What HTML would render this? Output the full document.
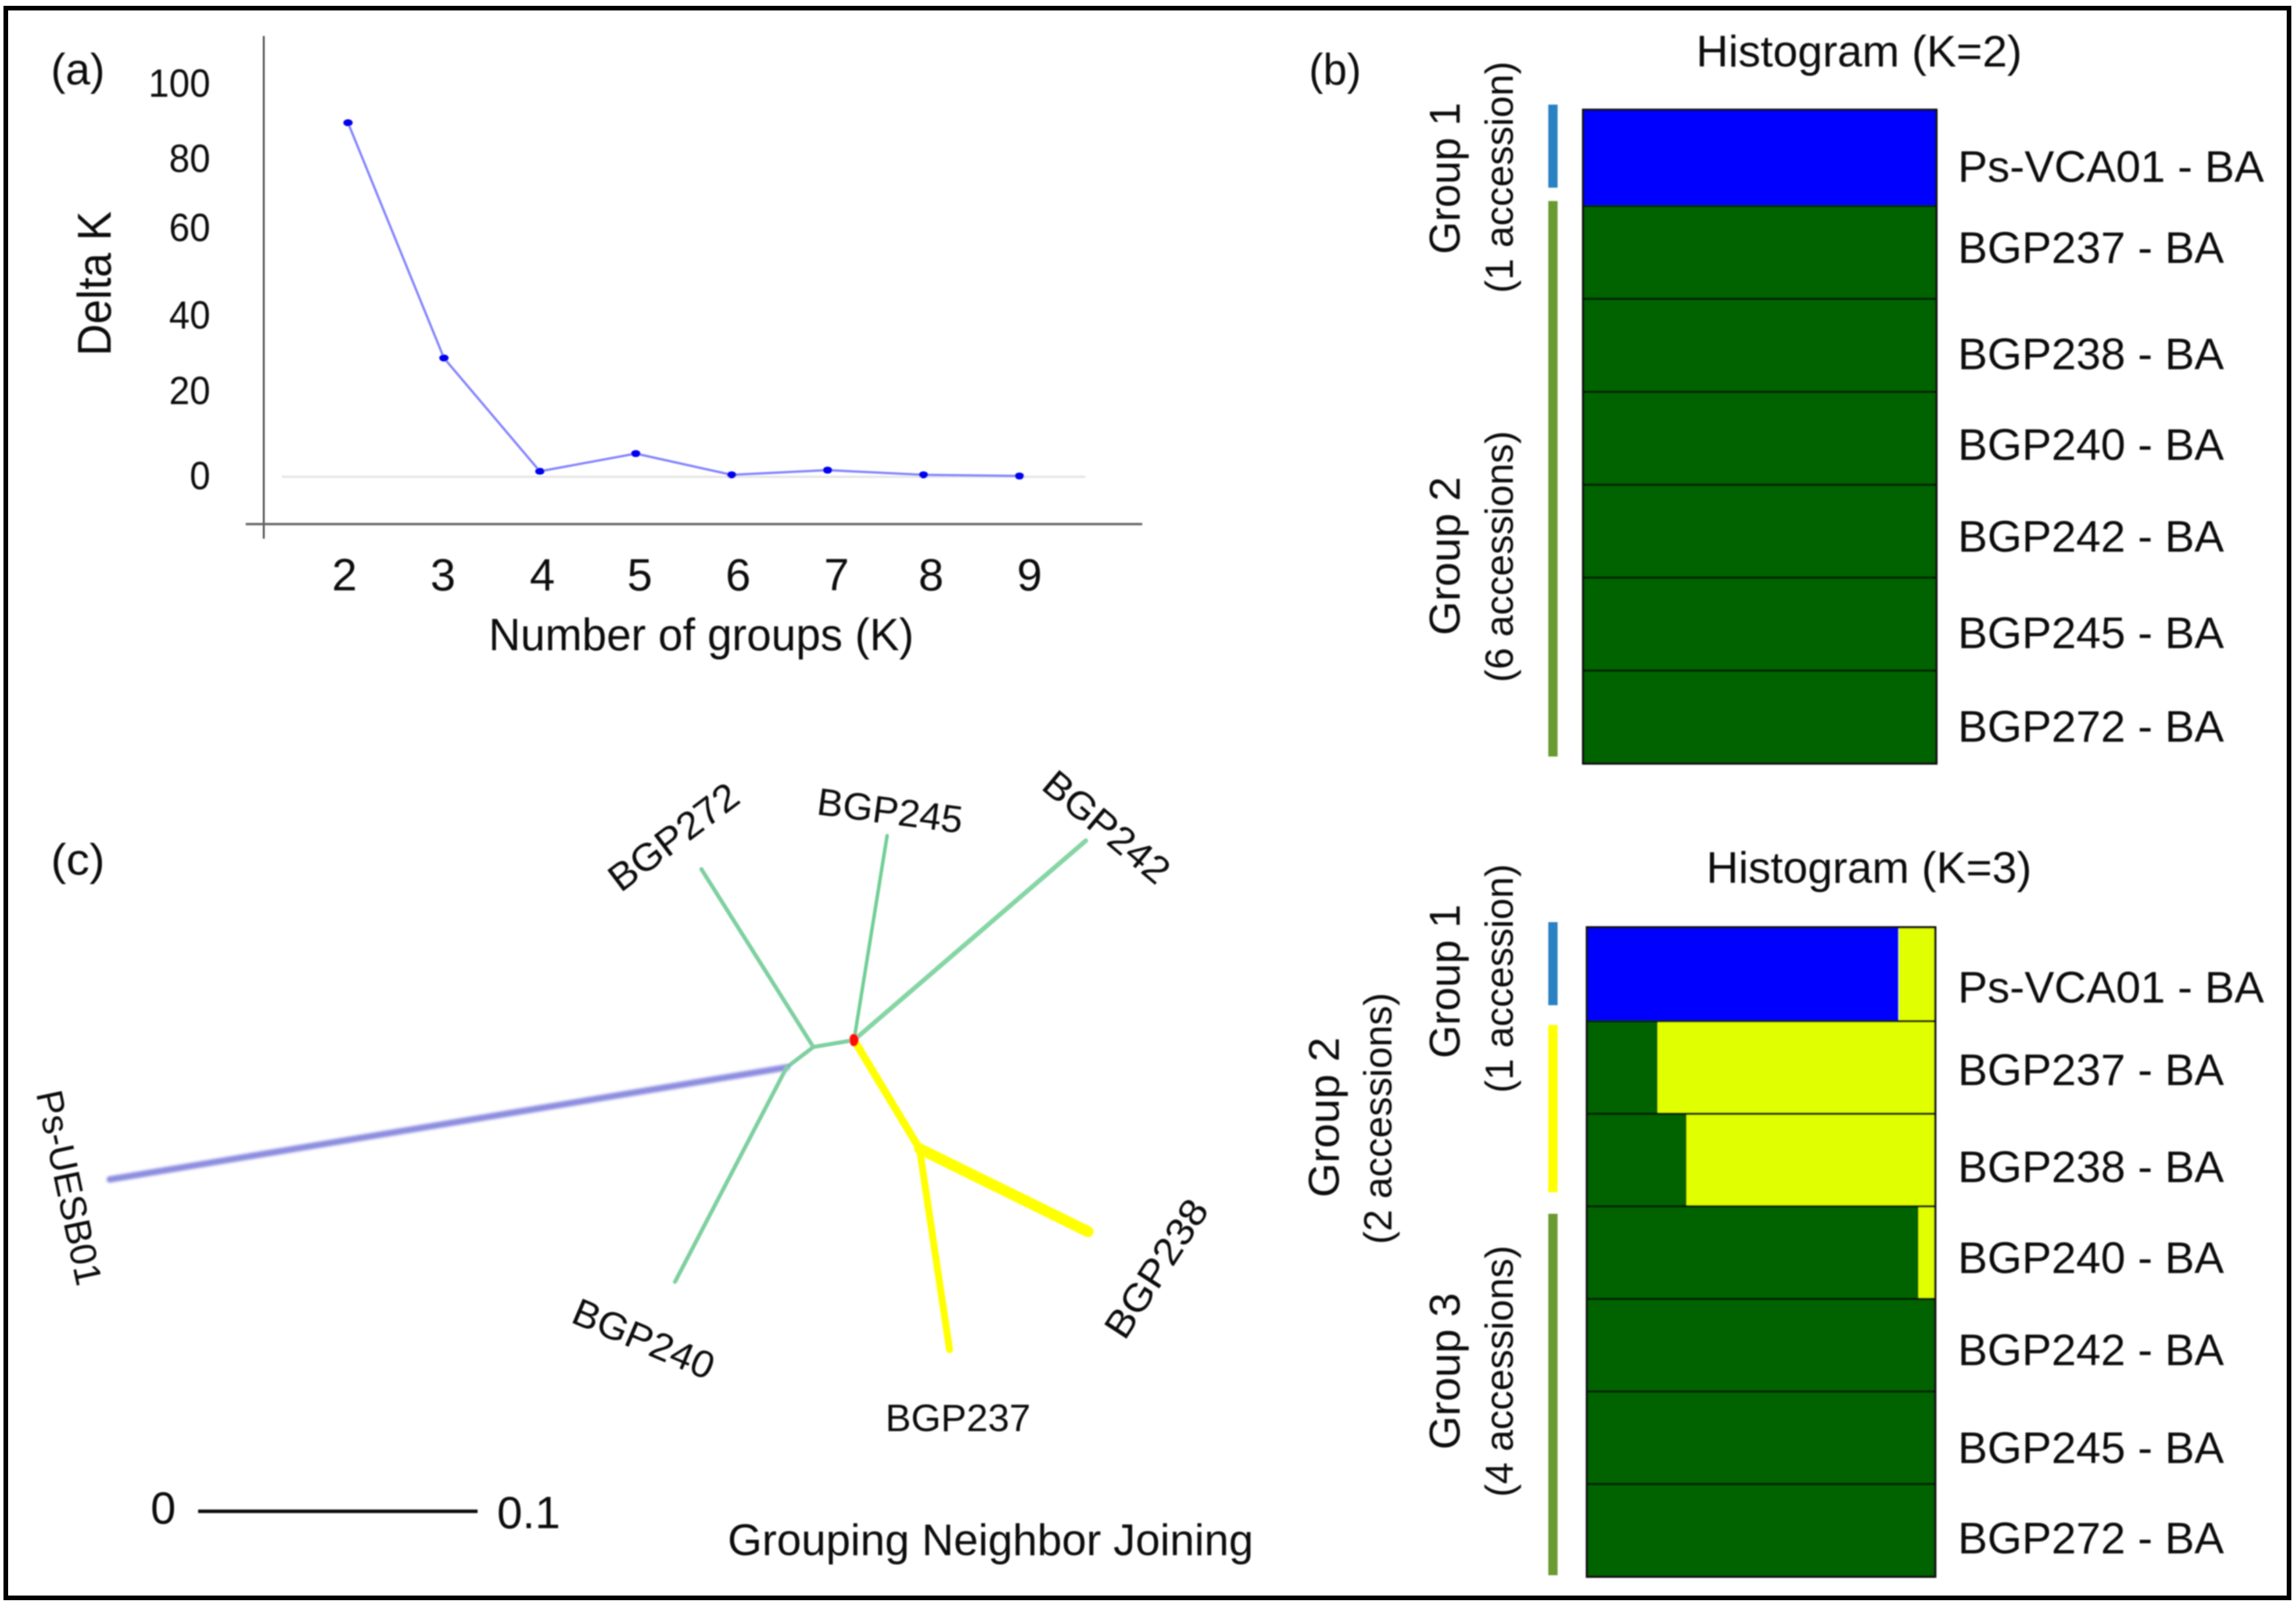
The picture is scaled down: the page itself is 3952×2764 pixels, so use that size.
<!DOCTYPE html>
<html lang="en">
<head>
<meta charset="utf-8">
<title>Delta K, structure histograms and neighbor joining tree</title>
<style>
html,body{margin:0;padding:0;background:#fff;}
svg{display:block;}
text{font-family:"Liberation Sans",Arial,sans-serif;fill:#0a0a0a;dominant-baseline:central;text-anchor:middle;}
.lab{text-anchor:start;font-size:76px;}
</style>
</head>
<body>
<svg xmlns="http://www.w3.org/2000/svg" width="3952" height="2764" viewBox="0 0 3952 2764">
<defs><filter id="soft" x="-5%" y="-5%" width="110%" height="110%"><feGaussianBlur stdDeviation="1"/></filter>
<filter id="softer" x="-5%" y="-50%" width="110%" height="200%"><feGaussianBlur stdDeviation="2"/></filter></defs>
<rect x="10" y="14" width="3930" height="2736" fill="#fff" stroke="#000" stroke-width="8"/>
<g filter="url(#soft)">

<g id="panelA">
<text x="134" y="120" font-size="76" textLength="93" lengthAdjust="spacingAndGlyphs">(a)</text>
<line x1="454" y1="62" x2="454" y2="927" stroke="#444" stroke-width="3"/>
<line x1="423" y1="902" x2="1966" y2="902" stroke="#666" stroke-width="4"/>
<text transform="translate(163,488) rotate(-90)" font-size="82" textLength="249" lengthAdjust="spacingAndGlyphs">Delta K</text>
<text x="1207" y="1092" font-size="78" textLength="732" lengthAdjust="spacingAndGlyphs">Number of groups (K)</text>
</g>

<g id="panelB">
<text x="2298" y="120" font-size="76" textLength="90" lengthAdjust="spacingAndGlyphs">(b)</text>
<text x="3200" y="89" font-size="76" textLength="561" lengthAdjust="spacingAndGlyphs">Histogram (K=2)</text>
<text transform="translate(2487,307) rotate(-90)" font-size="74" textLength="261" lengthAdjust="spacingAndGlyphs">Group 1</text>
<text transform="translate(2581,305) rotate(-90)" font-size="68" textLength="399" lengthAdjust="spacingAndGlyphs">(1 accession)</text>
<text transform="translate(2487,957) rotate(-90)" font-size="74" textLength="273" lengthAdjust="spacingAndGlyphs">Group 2</text>
<text transform="translate(2581,958) rotate(-90)" font-size="68" textLength="433" lengthAdjust="spacingAndGlyphs">(6 accessions)</text>
<rect x="2665" y="180" width="16" height="143" fill="#2a82c4"/>
<rect x="2665" y="346" width="16" height="956" fill="#6a9a30"/>
<g id="k2Bars"></g>
<rect x="2725" y="189" width="608" height="1125" fill="none" stroke="#111" stroke-width="4"/>
<text class="lab" x="3370" y="287.5" textLength="527" lengthAdjust="spacingAndGlyphs">Ps-VCA01 - BA</text>
<text class="lab" x="3370" y="427" textLength="458" lengthAdjust="spacingAndGlyphs">BGP237 - BA</text>
<text class="lab" x="3370" y="610" textLength="458" lengthAdjust="spacingAndGlyphs">BGP238 - BA</text>
<text class="lab" x="3370" y="766" textLength="458" lengthAdjust="spacingAndGlyphs">BGP240 - BA</text>
<text class="lab" x="3370" y="924" textLength="458" lengthAdjust="spacingAndGlyphs">BGP242 - BA</text>
<text class="lab" x="3370" y="1090" textLength="458" lengthAdjust="spacingAndGlyphs">BGP245 - BA</text>
<text class="lab" x="3370" y="1251" textLength="458" lengthAdjust="spacingAndGlyphs">BGP272 - BA</text>

<text x="3217" y="1494" font-size="76" textLength="560" lengthAdjust="spacingAndGlyphs">Histogram (K=3)</text>
<text transform="translate(2487,1689) rotate(-90)" font-size="74" textLength="265" lengthAdjust="spacingAndGlyphs">Group 1</text>
<text transform="translate(2581,1684) rotate(-90)" font-size="68" textLength="394" lengthAdjust="spacingAndGlyphs">(1 accession)</text>
<text transform="translate(2279,1923) rotate(-90)" font-size="74" textLength="276" lengthAdjust="spacingAndGlyphs">Group 2</text>
<text transform="translate(2372,1925) rotate(-90)" font-size="68" textLength="433" lengthAdjust="spacingAndGlyphs">(2 accessions)</text>
<text transform="translate(2487,2360) rotate(-90)" font-size="74" textLength="270" lengthAdjust="spacingAndGlyphs">Group 3</text>
<text transform="translate(2581,2360) rotate(-90)" font-size="68" textLength="433" lengthAdjust="spacingAndGlyphs">(4 accessions)</text>
<rect x="2665" y="1587" width="16" height="143" fill="#2a82c4"/>
<rect x="2665" y="1764" width="16" height="288" fill="#ffff00"/>
<rect x="2665" y="2089" width="16" height="622" fill="#6a9a30"/>
<g id="k3Bars"></g>
<rect x="2731.5" y="1596" width="599.5" height="1117.5" fill="none" stroke="#111" stroke-width="4"/>
<text class="lab" x="3370" y="1700" textLength="527" lengthAdjust="spacingAndGlyphs">Ps-VCA01 - BA</text>
<text class="lab" x="3370" y="1842" textLength="458" lengthAdjust="spacingAndGlyphs">BGP237 - BA</text>
<text class="lab" x="3370" y="2009" textLength="458" lengthAdjust="spacingAndGlyphs">BGP238 - BA</text>
<text class="lab" x="3370" y="2165.5" textLength="458" lengthAdjust="spacingAndGlyphs">BGP240 - BA</text>
<text class="lab" x="3370" y="2324" textLength="458" lengthAdjust="spacingAndGlyphs">BGP242 - BA</text>
<text class="lab" x="3370" y="2492.5" textLength="458" lengthAdjust="spacingAndGlyphs">BGP245 - BA</text>
<text class="lab" x="3370" y="2648" textLength="458" lengthAdjust="spacingAndGlyphs">BGP272 - BA</text>
</g>

<g id="panelC">
<text x="134" y="1480" font-size="76" textLength="93" lengthAdjust="spacingAndGlyphs">(c)</text>
<g id="tree"></g>
<text transform="translate(1159,1440) rotate(-37)" font-size="66" textLength="262" lengthAdjust="spacingAndGlyphs">BGP272</text>
<text transform="translate(1532,1395) rotate(7.5)" font-size="66" textLength="252" lengthAdjust="spacingAndGlyphs">BGP245</text>
<text transform="translate(1905,1423) rotate(40)" font-size="66" textLength="262" lengthAdjust="spacingAndGlyphs">BGP242</text>
<text transform="translate(119,2044) rotate(78)" font-size="64" textLength="341" lengthAdjust="spacingAndGlyphs">Ps-UESB01</text>
<text transform="translate(1108,2304) rotate(23)" font-size="66" textLength="258" lengthAdjust="spacingAndGlyphs">BGP240</text>
<text x="1649" y="2440" font-size="66" textLength="250" lengthAdjust="spacingAndGlyphs">BGP237</text>
<text transform="translate(1990,2183) rotate(-57)" font-size="66" textLength="270" lengthAdjust="spacingAndGlyphs">BGP238</text>
<text x="281" y="2595" font-size="78">0</text>
<line x1="341" y1="2601" x2="822" y2="2601" stroke="#111" stroke-width="6"/>
<text x="910" y="2603" font-size="78" textLength="109" lengthAdjust="spacingAndGlyphs">0.1</text>
<text x="1705" y="2651" font-size="76" textLength="905" lengthAdjust="spacingAndGlyphs">Grouping Neighbor Joining</text>
</g>
</g>
</svg>
<script>
// Panel (a) data
const kValues = [2, 3, 4, 5, 6, 7, 8, 9];
const deltaK = [90, 30.2, 1.4, 5.9, 0.5, 1.7, 0.5, 0.2];
const yTickLabels = ["100", "80", "60", "40", "20", "0"];
const yTickAnchors = [100, 80.9, 63.3, 41.1, 21.9, 0.2];
const xTickAnchors = [2, 3, 4.01, 5, 6, 7, 7.96, 8.96];

// Panel (b) data: ancestry share per accession
const accessions = ["ps-vca01", "bgp237", "bgp238", "bgp240", "bgp242", "bgp245", "bgp272"];
const k2Blue = [1, 0, 0, 0, 0, 0, 0];
const k2Green = [0, 1, 1, 1, 1, 1, 1];
const k3Blue = [0.895, 0, 0, 0, 0, 0, 0];
const k3Green = [0, 0.203, 0.286, 0.952, 1, 1, 1];
const k3Yellow = [0.105, 0.797, 0.714, 0.048, 0, 0, 0];

// Panel (c) data: unrooted tree
const branchNames = ["ps-node-a", "ps-node-b", "ps-uesb01", "bgp240", "bgp272", "bgp245", "bgp242", "yellow-node", "bgp238", "bgp237"];
const branchParents = ["root", "ps-node-a", "ps-node-b", "ps-node-b", "ps-node-a", "root", "root", "root", "yellow-node", "yellow-node"];
const branchLengths = [0.01476, 0.01202, 0.2455, 0.0865, 0.0752, 0.0741, 0.1094, 0.0454, 0.0672, 0.0727];
const branchAngles = [170.3, 142.7, 170.6, 117.5, -122.2, -80.8, -40.7, 58.9, 26.2, 81.5];

const NS = "http://www.w3.org/2000/svg";
function mk(parent, tag, attrs, txt) {
  const el = document.createElementNS(NS, tag);
  for (const k in attrs) el.setAttribute(k, attrs[k]);
  if (txt !== undefined) el.textContent = txt;
  parent.appendChild(el);
  return el;
}

// ---- Panel (a)
const panelA = document.getElementById("panelA");
const xScale = k => 599 + (k - 2) * 165.1;
const yScale = v => 820.6 - v * 6.77;
const xLabelScale = k => 593 + (k - 2) * 169.4;

const zeroLine = mk(panelA, "line", {x1: 485, x2: 1868, y1: yScale(0), y2: yScale(0), stroke: "#e6e6e6", "stroke-width": 4});



yTickLabels.forEach((lab, i) => {
  const t = mk(panelA, "text", {x: 362, y: yScale(yTickAnchors[i]), "font-size": 68, textLength: lab.length * 35.5, lengthAdjust: "spacingAndGlyphs", style: "text-anchor:end"}, lab);
  
  
});
kValues.forEach((k, i) => {
  const t = mk(panelA, "text", {x: xLabelScale(xTickAnchors[i]), y: 989, "font-size": 78}, String(k));
  
  
});
const deltaLine = mk(panelA, "polyline", {
  points: kValues.map((k, i) => xScale(k) + "," + yScale(deltaK[i])).join(" "),
  fill: "none", stroke: "#8484ff", "stroke-width": 4, "stroke-linejoin": "round"
});


kValues.forEach((k, i) => {
  const p = mk(panelA, "ellipse", {cx: xScale(k), cy: yScale(deltaK[i]), rx: 8, ry: 6, fill: "#0000ee"});
  
  
});

// ---- Panel (b)
function stacked(group, left, width, top, firstEnd, bottom, series, colors, prefix) {
  const rowH = (bottom - firstEnd) / (accessions.length - 1);
  const rowTop = i => i === 0 ? top : firstEnd + (i - 1) * rowH;
  const xs = share => width * share;
  accessions.forEach((acc, i) => {
    const y0 = rowTop(i), y1 = i === accessions.length - 1 ? bottom : rowTop(i + 1);
    let cursor = 0;
    series.forEach((vals, s) => {
      if (vals[i] <= 0) return;
      const seg = mk(group, "rect", {x: left + xs(cursor), y: y0, width: xs(vals[i]), height: y1 - y0, fill: colors[s]});
      
      
      cursor += vals[i];
    });
    if (i > 0) {
      const sep = mk(group, "line", {x1: left, x2: left + width, y1: y0, y2: y0, stroke: "#062000", "stroke-width": 4});
      
      
    }
  });
}
stacked(document.getElementById("k2Bars"), 2725, 608, 189, 354.5, 1314, [k2Blue, k2Green], ["#0000ff", "#006400"], "k2");
stacked(document.getElementById("k3Bars"), 2731.5, 599.5, 1596, 1757.5, 2713.5, [k3Green, k3Blue, k3Yellow], ["#006400", "#0000ff", "#e0ff00"], "k3");

// ---- Panel (c)
const tree = document.getElementById("tree");
const treeUnit = 4810;
const treeRoot = {x: 1470, y: 1790};
const nodePos = {root: treeRoot};
function branchStyle(name) {
  if (name === "ps-uesb01") return {stroke: "#8c8ce0", w: 11, filter: "url(#softer)"};
  if (name === "bgp238") return {stroke: "#ffff00", w: 19};
  if (name === "yellow-node") return {stroke: "#ffff00", w: 13};
  if (name === "bgp237") return {stroke: "#ffff00", w: 12};
  if (name === "bgp245") return {stroke: "#6fcf95", w: 6};
  if (name === "bgp242") return {stroke: "#85d6a4", w: 8};
  return {stroke: "#7fd0a0", w: 7};
}
branchNames.forEach((name, i) => {
  const from = nodePos[branchParents[i]];
  const a = branchAngles[i] * Math.PI / 180;
  const to = {x: from.x + treeUnit * branchLengths[i] * Math.cos(a), y: from.y + treeUnit * branchLengths[i] * Math.sin(a)};
  nodePos[name] = to;
  const st = branchStyle(name);
  const attrs = {x1: from.x, y1: from.y, x2: to.x, y2: to.y, stroke: st.stroke, "stroke-width": st.w, "stroke-linecap": "round"};
  if (st.filter) attrs.filter = st.filter;
  const b = mk(tree, "line", attrs);
  
  
});
const rootDot = mk(tree, "ellipse", {cx: treeRoot.x, cy: treeRoot.y, rx: 8, ry: 11, fill: "#ff1010"});


</script>
</body>
</html>
